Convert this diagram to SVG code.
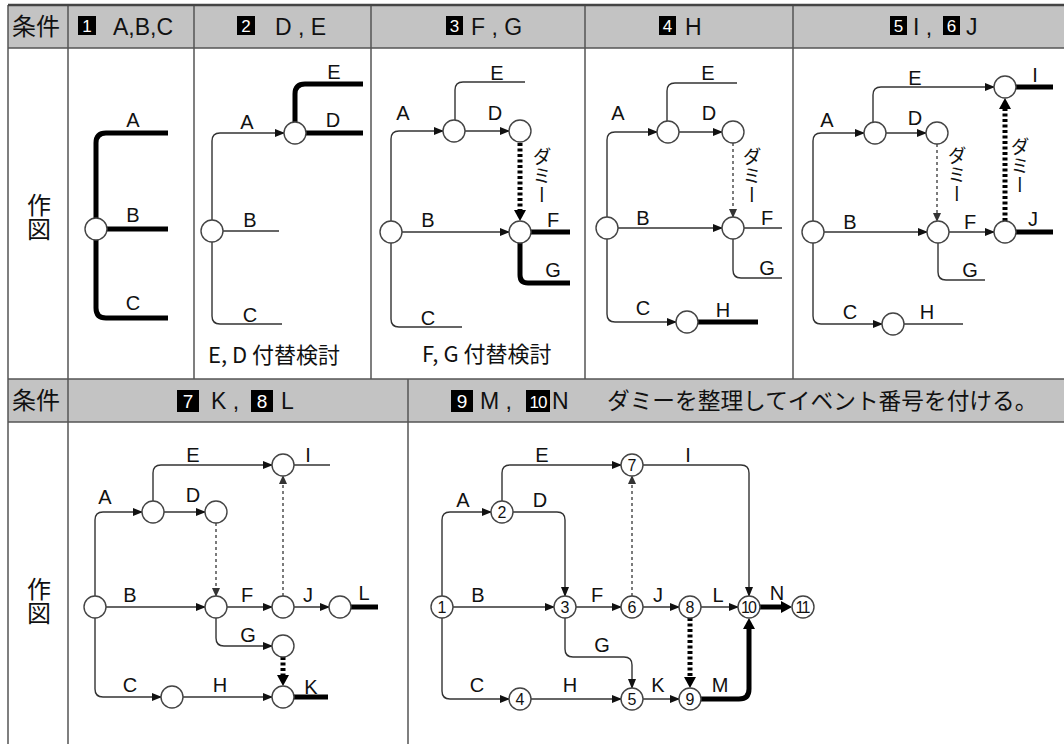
<svg xmlns="http://www.w3.org/2000/svg" width="1064" height="744" viewBox="0 0 1064 744">
<defs>
<style>
.t{stroke:#333;stroke-width:1.4;fill:none}
.k{stroke:#000;stroke-width:5;fill:none}
.d{stroke:#444;stroke-width:1.4;stroke-dasharray:3 3;fill:none}
.kd{stroke:#000;stroke-width:5;stroke-dasharray:3 2.5;fill:none}
.n{fill:#fff;stroke:#444;stroke-width:1.4}
.lb{font-family:"Liberation Sans",Arial,sans-serif;font-size:20px;fill:#111;text-anchor:middle}
.num{font-family:"Liberation Sans",Arial,sans-serif;font-size:16px;fill:#111;text-anchor:middle}
.num2{font-family:"Liberation Sans",Arial,sans-serif;font-size:16px;letter-spacing:-1.8px;fill:#111;text-anchor:middle}
.hd{font-family:"Liberation Sans","Noto Sans CJK JP",sans-serif;font-size:23px;fill:#111}
.jh{font-family:"Noto Sans CJK JP",sans-serif;font-size:24px;fill:#111}
.jp{font-family:"Noto Sans CJK JP",sans-serif;fill:#111}
.bx{fill:#000}
.bn{font-family:"Liberation Sans",Arial,sans-serif;font-size:17px;fill:#fff;text-anchor:middle}
.bn2{font-family:"Liberation Sans",Arial,sans-serif;font-size:19px;fill:#fff;text-anchor:middle}
.vt{font-family:"Noto Sans CJK JP",sans-serif;font-size:19px;fill:#111;writing-mode:vertical-rl}
.vr{font-family:"Noto Sans CJK JP",sans-serif;font-size:24px;fill:#111;writing-mode:vertical-rl}
.grid{stroke:#555;stroke-width:1.5;fill:none}
</style>
<marker id="a" markerUnits="userSpaceOnUse" markerWidth="10" markerHeight="8" refX="9" refY="4" orient="auto"><path d="M0,0 L10,4 L0,8 z" fill="#111"/></marker>
<marker id="ak" markerUnits="userSpaceOnUse" markerWidth="12" markerHeight="12" refX="1" refY="6" orient="auto"><path d="M0,0 L11,6 L0,12 z" fill="#000"/></marker>
<marker id="ad" markerUnits="userSpaceOnUse" markerWidth="9" markerHeight="8" refX="8" refY="4" orient="auto"><path d="M0,0 L9,4 L0,8 z" fill="#333"/></marker>
</defs>

<!-- table -->
<g id="table">
<rect x="0" y="0" width="1064" height="744" fill="#fff"/>
<rect x="8" y="5" width="1056" height="43" fill="#c3c3c3"/>
<rect x="8" y="379" width="1056" height="43" fill="#c3c3c3"/>
<path class="grid" d="M8,5 H1064 M8,48 H1064 M8,379 H1064 M8,422 H1064"/>
<path class="grid" d="M8,5 V744 M68,5 V744 M194,5 V379 M371,5 V379 M585,5 V379 M793,5 V379 M408,379 V744"/>
<path d="M8,5 H1064" stroke="#444" stroke-width="2.5"/>
</g>

<!-- headers -->
<g id="header1">
<text class="jh" x="12" y="35">条件</text>
<rect class="bx" x="78" y="16" width="18" height="19"/><text class="bn" x="87" y="32">1</text>
<text class="hd" x="113" y="35">A,B,C</text>
<rect class="bx" x="237" y="16" width="18" height="19"/><text class="bn" x="246" y="32">2</text>
<text class="hd" x="275" y="35">D , E</text>
<rect class="bx" x="446" y="16" width="17" height="19"/><text class="bn" x="454.5" y="32">3</text>
<text class="hd" x="471" y="35">F , G</text>
<rect class="bx" x="659" y="16" width="17" height="19"/><text class="bn" x="667.5" y="32">4</text>
<text class="hd" x="685" y="35">H</text>
<rect class="bx" x="890" y="16" width="17" height="19"/><text class="bn" x="898.5" y="32">5</text>
<text class="hd" x="913" y="35">I ,</text>
<rect class="bx" x="943" y="16" width="17" height="19"/><text class="bn" x="951.5" y="32">6</text>
<text class="hd" x="966" y="35">J</text>
</g>
<g id="header2">
<text class="jh" x="12" y="409">条件</text>
<rect class="bx" x="177" y="390" width="22" height="22"/><text class="bn2" x="188" y="408">7</text>
<text class="hd" x="211" y="409">K ,</text>
<rect class="bx" x="251" y="390" width="22" height="22"/><text class="bn2" x="262" y="408">8</text>
<text class="hd" x="281" y="409">L</text>
<rect class="bx" x="451" y="390" width="22" height="22"/><text class="bn2" x="462" y="408">9</text>
<text class="hd" x="480" y="409">M ,</text>
<rect class="bx" x="526" y="390" width="24" height="22"/><text class="bn" x="538" y="408" letter-spacing="-1">10</text>
<text class="hd" x="552" y="409">N</text>
<text class="jp" x="607" y="409" font-size="22.7">ダミーを整理してイベント番号を付ける。</text>
</g>
<g id="rowlabels">
<text class="vr" x="39" y="193">作図</text>
<text class="vr" x="39" y="577">作図</text>
</g>

<!-- panel 1 -->
<g id="p1-connectors">
<path class="k" d="M168,133 H106 Q96,133 96,143 V308 Q96,318 106,318 H168 M107,229 H168"/>
</g>
<g id="p1-node"><circle class="n" cx="96" cy="229" r="11"/></g>
<g id="p1-labels">
<text class="lb" x="133" y="127">A</text><text class="lb" x="133" y="222">B</text><text class="lb" x="133" y="310">C</text>
</g>

<!-- panel 2 -->
<g id="p2-connectors">
<path class="t" d="M212,220 V141 Q212,133 220,133 H284" marker-end="url(#a)"/>
<path class="t" d="M223,231 H279"/>
<path class="t" d="M212,242 V316 Q212,324 220,324 H282"/>
<path class="k" d="M295,122 V94 Q295,84 305,84 H363 M306,133 H363"/>
</g>
<g id="p2-nodes"><circle class="n" cx="212" cy="231" r="11"/><circle class="n" cx="295" cy="133" r="11"/></g>
<g id="p2-labels">
<text class="lb" x="247" y="129">A</text><text class="lb" x="250" y="227">B</text><text class="lb" x="250" y="322">C</text>
<text class="lb" x="334" y="79">E</text><text class="lb" x="333" y="127">D</text>
<text class="jp" x="208" y="363" font-size="22">E, D 付替検討</text>
</g>

<!-- panel 3 -->
<g id="p3-connectors">
<path class="t" d="M391,221 V139 Q391,131 399,131 H443" marker-end="url(#a)"/>
<path class="t" d="M455,120 V90 Q455,82 463,82 H525"/>
<path class="t" d="M465,131 H509" marker-end="url(#a)"/>
<path class="kd" d="M520,143 V211" marker-end="url(#ak)"/>
<path class="t" d="M402,232 H509" marker-end="url(#a)"/>
<path class="k" d="M531,232 H570 M520,243 V275 Q520,283 528,283 H570"/>
<path class="t" d="M391,243 V319 Q391,327 399,327 H462"/>
</g>
<g id="p3-nodes"><circle class="n" cx="391" cy="232" r="11"/><circle class="n" cx="454" cy="131" r="11"/><circle class="n" cx="520" cy="131" r="11"/><circle class="n" cx="520" cy="232" r="11"/></g>
<g id="p3-labels">
<text class="lb" x="403" y="120">A</text><text class="lb" x="497" y="80">E</text><text class="lb" x="495" y="120">D</text>
<text class="vt" x="542" y="147">ダミー</text>
<text class="lb" x="428" y="227">B</text><text class="lb" x="553" y="227">F</text><text class="lb" x="553" y="277">G</text><text class="lb" x="428" y="325">C</text>
<text class="jp" x="422" y="362" font-size="22">F, G 付替検討</text>
</g>

<!-- panel 4 -->
<g id="p4-connectors">
<path class="t" d="M607,217 V140 Q607,132 615,132 H657" marker-end="url(#a)"/>
<path class="t" d="M667,121 V91 Q667,83 675,83 H737"/>
<path class="t" d="M679,132 H722" marker-end="url(#a)"/>
<path class="d" d="M733,143 V217" marker-end="url(#ad)"/>
<path class="t" d="M618,228 H722" marker-end="url(#a)"/>
<path class="t" d="M744,228 H782 M733,239 V270 Q733,278 741,278 H782"/>
<path class="t" d="M607,239 V314 Q607,322 615,322 H676" marker-end="url(#a)"/>
<path class="k" d="M698,322 H758"/>
</g>
<g id="p4-nodes"><circle class="n" cx="607" cy="228" r="11"/><circle class="n" cx="668" cy="132" r="11"/><circle class="n" cx="733" cy="132" r="11"/><circle class="n" cx="733" cy="228" r="11"/><circle class="n" cx="687" cy="322" r="11"/></g>
<g id="p4-labels">
<text class="lb" x="618" y="120">A</text><text class="lb" x="708" y="80">E</text><text class="lb" x="709" y="120">D</text>
<text class="vt" x="752" y="147">ダミー</text>
<text class="lb" x="643" y="225">B</text><text class="lb" x="767" y="225">F</text><text class="lb" x="767" y="275">G</text>
<text class="lb" x="643" y="315">C</text><text class="lb" x="723" y="317">H</text>
</g>

<!-- panel 5 -->
<g id="p5-connectors">
<path class="t" d="M813,221 V141 Q813,133 821,133 H864" marker-end="url(#a)"/>
<path class="t" d="M873,122 V95 Q873,87 881,87 H994" marker-end="url(#a)"/>
<path class="t" d="M886,133 H926" marker-end="url(#a)"/>
<path class="d" d="M937,144 V221" marker-end="url(#ad)"/>
<path class="t" d="M824,232 H927" marker-end="url(#a)"/>
<path class="t" d="M949,232 H994" marker-end="url(#a)"/>
<path class="t" d="M938,243 V272 Q938,280 946,280 H985"/>
<path class="t" d="M813,243 V316 Q813,324 821,324 H882" marker-end="url(#a)"/>
<path class="t" d="M904,324 H963"/>
<path class="k" d="M1016,87 H1053 M1016,232 H1053"/>
<path class="kd" d="M1005,221 V108" marker-end="url(#ak)"/>
</g>
<g id="p5-nodes"><circle class="n" cx="813" cy="232" r="11"/><circle class="n" cx="875" cy="133" r="11"/><circle class="n" cx="937" cy="133" r="11"/><circle class="n" cx="938" cy="232" r="11"/><circle class="n" cx="1005" cy="87" r="11"/><circle class="n" cx="1005" cy="232" r="11"/><circle class="n" cx="893" cy="324" r="11"/></g>
<g id="p5-labels">
<text class="lb" x="827" y="127">A</text><text class="lb" x="915" y="85">E</text><text class="lb" x="915" y="125">D</text>
<text class="vt" x="957" y="146">ダミー</text><text class="vt" x="1020" y="137">ダミー</text>
<text class="lb" x="850" y="229">B</text><text class="lb" x="970" y="229">F</text><text class="lb" x="1035" y="82">I</text><text class="lb" x="1033" y="226">J</text>
<text class="lb" x="970" y="277">G</text><text class="lb" x="850" y="319">C</text><text class="lb" x="927" y="319">H</text>
</g>

<!-- panel 7/8 -->
<g id="p7-connectors">
<path class="t" d="M95,596 V520 Q95,512 103,512 H142" marker-end="url(#a)"/>
<path class="t" d="M153,501 V473 Q153,465 161,465 H272" marker-end="url(#a)"/>
<path class="t" d="M164,512 H205" marker-end="url(#a)"/>
<path class="t" d="M294,465 H330"/>
<path class="d" d="M216,523 V596" marker-end="url(#ad)"/>
<path class="d" d="M283,596 V476" marker-end="url(#ad)"/>
<path class="t" d="M106,607 H205" marker-end="url(#a)"/>
<path class="t" d="M227,607 H272" marker-end="url(#a)"/>
<path class="t" d="M294,607 H329" marker-end="url(#a)"/>
<path class="k" d="M351,607 H378"/>
<path class="t" d="M216,618 V638 Q216,646 224,646 H272" marker-end="url(#a)"/>
<path class="kd" d="M283,657 V676" marker-end="url(#ak)"/>
<path class="t" d="M95,618 V689 Q95,697 103,697 H161" marker-end="url(#a)"/>
<path class="t" d="M183,697 H272" marker-end="url(#a)"/>
<path class="k" d="M294,697 H328"/>
</g>
<g id="p7-nodes">
<circle class="n" cx="95" cy="607" r="11"/><circle class="n" cx="153" cy="512" r="11"/><circle class="n" cx="216" cy="512" r="11"/><circle class="n" cx="283" cy="465" r="11"/>
<circle class="n" cx="216" cy="607" r="11"/><circle class="n" cx="283" cy="607" r="11"/><circle class="n" cx="340" cy="607" r="11"/><circle class="n" cx="283" cy="646" r="11"/>
<circle class="n" cx="283" cy="697" r="11"/><circle class="n" cx="172" cy="697" r="11"/>
</g>
<g id="p7-labels">
<text class="lb" x="105" y="504">A</text><text class="lb" x="193" y="462">E</text><text class="lb" x="193" y="502">D</text><text class="lb" x="308" y="462">I</text>
<text class="lb" x="130" y="602">B</text><text class="lb" x="247" y="602">F</text><text class="lb" x="308" y="602">J</text><text class="lb" x="364" y="600">L</text>
<text class="lb" x="248" y="642">G</text><text class="lb" x="130" y="692">C</text><text class="lb" x="220" y="692">H</text><text class="lb" x="311" y="694">K</text>
</g>

<!-- panel 9/10 -->
<g id="p9-connectors">
<path class="t" d="M442,596 V520 Q442,512 450,512 H491" marker-end="url(#a)"/>
<path class="t" d="M502,501 V473 Q502,465 510,465 H621" marker-end="url(#a)"/>
<path class="t" d="M513,512 H557 Q565,512 565,520 V596" marker-end="url(#a)"/>
<path class="t" d="M643,465 H741 Q749,465 749,473 V596" marker-end="url(#a)"/>
<path class="t" d="M453,607 H554" marker-end="url(#a)"/>
<path class="t" d="M576,607 H621" marker-end="url(#a)"/>
<path class="d" d="M632,596 V476" marker-end="url(#ad)"/>
<path class="t" d="M643,607 H679" marker-end="url(#a)"/>
<path class="t" d="M701,607 H738" marker-end="url(#a)"/>
<path class="k" d="M760,607 H782" marker-end="url(#ak)"/>
<path class="kd" d="M690,618 V678" marker-end="url(#ak)"/>
<path class="t" d="M565,618 V649 Q565,657 573,657 H624 Q632,657 632,665 V688" marker-end="url(#a)"/>
<path class="t" d="M442,618 V691 Q442,699 450,699 H509" marker-end="url(#a)"/>
<path class="t" d="M531,699 H621" marker-end="url(#a)"/>
<path class="t" d="M643,699 H679" marker-end="url(#a)"/>
<path class="k" d="M701,699 H739 Q749,699 749,689 V628" marker-end="url(#ak)"/>
</g>
<g id="n1"><circle class="n" cx="442" cy="607" r="11"/><text class="num" x="442" y="613">1</text></g>
<g id="n2"><circle class="n" cx="502" cy="512" r="11"/><text class="num" x="502" y="518">2</text></g>
<g id="n3"><circle class="n" cx="565" cy="607" r="11"/><text class="num" x="565" y="613">3</text></g>
<g id="n4"><circle class="n" cx="520" cy="699" r="11"/><text class="num" x="520" y="705">4</text></g>
<g id="n5"><circle class="n" cx="632" cy="699" r="11"/><text class="num" x="632" y="705">5</text></g>
<g id="n6"><circle class="n" cx="632" cy="607" r="11"/><text class="num" x="632" y="613">6</text></g>
<g id="n7"><circle class="n" cx="632" cy="465" r="11"/><text class="num" x="632" y="471">7</text></g>
<g id="n8"><circle class="n" cx="690" cy="607" r="11"/><text class="num" x="690" y="613">8</text></g>
<g id="n9"><circle class="n" cx="690" cy="699" r="11"/><text class="num" x="690" y="705">9</text></g>
<g id="n10"><circle class="n" cx="749" cy="607" r="11"/><text class="num2" x="748" y="613">10</text></g>
<g id="n11"><circle class="n" cx="803" cy="607" r="11"/><text class="num2" x="802" y="613">11</text></g>
<g id="p9-labels">
<text class="lb" x="463" y="507">A</text><text class="lb" x="542" y="462">E</text><text class="lb" x="540" y="507">D</text><text class="lb" x="688" y="462">I</text>
<text class="lb" x="478" y="602">B</text><text class="lb" x="597" y="602">F</text><text class="lb" x="658" y="602">J</text><text class="lb" x="718" y="602">L</text><text class="lb" x="777" y="600">N</text>
<text class="lb" x="602" y="652">G</text><text class="lb" x="477" y="692">C</text><text class="lb" x="570" y="692">H</text><text class="lb" x="658" y="692">K</text><text class="lb" x="720" y="692">M</text>
</g>
</svg>
